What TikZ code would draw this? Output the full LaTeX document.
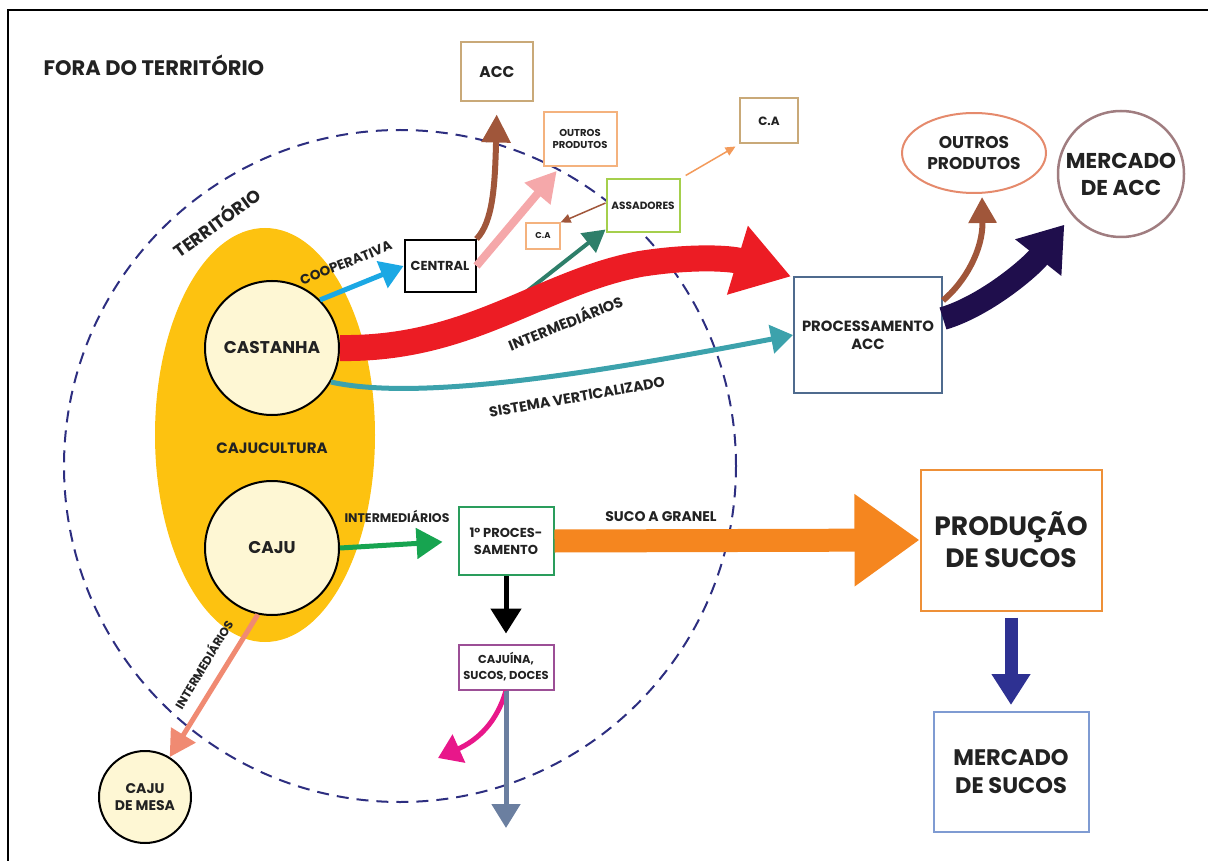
\documentclass[tikz,border=0pt]{standalone}
\usepackage{fontspec}
\setmainfont{Poppins}
\usetikzlibrary{arrows.meta,positioning,shapes.geometric}

\definecolor{cajuyellow}{HTML}{FDC210}
\definecolor{cream}{HTML}{FEF7D4}
\definecolor{terrnavy}{HTML}{2D2E80}
\definecolor{flowred}{HTML}{EC1C24}
\definecolor{coopblue}{HTML}{1BA8E4}
\definecolor{accbrown}{HTML}{A0563A}
\definecolor{pinkflow}{HTML}{F5A8AA}
\definecolor{assgreen}{HTML}{2E7F6A}
\definecolor{thinorange}{HTML}{F39A5A}
\definecolor{vertteal}{HTML}{3CA2AC}
\definecolor{deepnavy}{HTML}{1F0E4C}
\definecolor{intgreen}{HTML}{17A450}
\definecolor{sucoorange}{HTML}{F5861F}
\definecolor{magentaflow}{HTML}{E8178A}
\definecolor{slateflow}{HTML}{6B7FA0}
\definecolor{salmonflow}{HTML}{F08A72}
\definecolor{sucoblue}{HTML}{2E3192}
\definecolor{tanline}{HTML}{C9A978}
\definecolor{peachline}{HTML}{F4B27E}
\definecolor{limeline}{HTML}{A5CF4C}
\definecolor{ellipseline}{HTML}{E58A6C}
\definecolor{mauveline}{HTML}{A07D80}
\definecolor{slateline}{HTML}{4F6B8E}
\definecolor{procgreen}{HTML}{2A9D5C}
\definecolor{plumline}{HTML}{9C4F96}
\definecolor{orangeline}{HTML}{EE9038}
\definecolor{skyline}{HTML}{7F9BD2}
\definecolor{ink}{HTML}{222222}

\newcommand{\fsize}[2]{\fontsize{#1}{#2}\selectfont\bfseries}

\begin{document}
\begin{tikzpicture}[x=1pt, y=-1pt, thick, text=ink]
    % Define styles
    \tikzstyle{box} = [rectangle, draw, line width=2pt, fill=white, align=center, inner sep=0pt]
    \tikzstyle{disc} = [circle, draw=black, line width=2pt, fill=cream, align=center, inner sep=0pt, minimum size=134pt]
    \tikzstyle{territory} = [draw=terrnavy, line width=2pt, dash pattern=on 12pt off 8pt]
    \tikzstyle{tag} = [inner sep=0pt]

    \useasboundingbox (0,0) rectangle (1208,861);
    \draw [line width=2.5pt] (8,880) -- (8,10) -- (1230,10);
    \node [anchor=west, font=\fsize{21}{24}] (fora) at (40,65) {FORA DO TERRITÓRIO};

    % Territory and cajucultura
    \draw [territory] (400,466) circle (336pt);
    \node [ellipse, fill=cajuyellow, minimum width=220pt, minimum height=414pt] (cultura) at (265,435) {};
    \node [disc, font=\fsize{17}{20}] (castanha) at (272,348) {CASTANHA};
    \node [disc, font=\fsize{17}{20}] (caju) at (272,548) {CAJU};
    \node [disc, minimum size=92pt, font=\fsize{14}{17}] (mesa) at (145,797) {CAJU\\DE MESA};

    % Place nodes - castanha chain
    \node [box, draw=black, minimum width=71pt, minimum height=52pt, font=\fsize{13}{15}] (central) at (440,266) {CENTRAL};
    \node [box, draw=tanline, minimum width=72pt, minimum height=59pt, font=\fsize{15.5}{18}] (acc) at (497,72) {ACC};
    \node [box, draw=peachline, minimum width=73pt, minimum height=54pt, font=\fsize{10}{12.5}] (outros) at (580,139) {OUTROS\\PRODUTOS};
    \node [box, draw=limeline, minimum width=73pt, minimum height=53pt, font=\fsize{10.5}{13}] (assadores) at (643,206) {ASSADORES};
    \node [box, draw=peachline, line width=1.2pt, minimum width=34pt, minimum height=26pt, font=\fsize{8.5}{9}] (casmall) at (543,236) {C.A};
    \node [box, draw=tanline, minimum width=58pt, minimum height=45pt, font=\fsize{12}{14}] (catop) at (769,121) {C.A};
    \node [box, draw=slateline, minimum width=148pt, minimum height=115pt, font=\fsize{14.8}{18}] (proc) at (868,335) {PROCESSAMENTO\\ACC};
    \node [ellipse, draw=ellipseline, line width=2pt, fill=white, minimum width=144pt, minimum height=80pt, inner sep=0pt, align=center, font=\fsize{17}{21}] (outrosacc) at (974,153) {OUTROS\\PRODUTOS};
    \node [circle, draw=mauveline, line width=2.5pt, minimum size=126pt, inner sep=0pt, align=center, font=\fsize{21.5}{27}] (mercadoacc) at (1121,174) {MERCADO\\DE ACC};

    % Place nodes - caju chain
    \node [box, draw=procgreen, minimum width=95pt, minimum height=68pt, font=\fsize{13}{17}] (proc1) at (506,541) {1º PROCES-\\SAMENTO};
    \node [box, draw=plumline, below of=proc1, node distance=126pt, minimum width=95pt, minimum height=45pt, font=\fsize{11.5}{16}] (cajuina) {CAJUÍNA,\\SUCOS, DOCES};
    \node [box, draw=orangeline, minimum width=181pt, minimum height=141pt, font=\fsize{26.5}{32}] (prod) at (1011,540) {PRODUÇÃO\\DE SUCOS};
    \node [box, draw=skyline, below of=prod, node distance=232pt, minimum width=155pt, minimum height=120pt, font=\fsize{22.5}{28}] (msucos) {MERCADO\\DE SUCOS};

    \coordinate (fork) at (526,292);
    \coordinate (sideout) at (438,758);
    \coordinate (downout) at (506,828);

    % Draw edges - castanha
    \path [draw=coopblue, line width=5pt, -{Triangle[length=23pt,width=28pt]}] (castanha.45) -- (central.west);
    \path [draw=accbrown, line width=6pt, -{Triangle[length=28pt,width=28pt]}, shorten >=12pt] (central.north east) .. controls (493,222) and (495,185) .. (acc.south);
    \path [draw=pinkflow, line width=8pt, -{Triangle[length=30pt,width=32pt]}, shorten >=5pt] (central.east) -- ([xshift=-20pt]outros.south);
    \path [draw=assgreen, line width=4pt, -{Triangle[length=22pt,width=24pt]}] (fork) -- ([yshift=4pt]assadores.south west);
    \path [draw=accbrown, line width=1.5pt, -{Triangle[length=10pt,width=9pt]}] ([yshift=3pt]assadores.west) -- (casmall.north east);
    \path [draw=thinorange, line width=1.5pt, -{Triangle[length=10pt,width=9pt]}, shorten <=6pt, shorten >=4pt] (assadores.north east) -- (catop.south west);
    \path [draw=flowred, line width=26pt, -{Triangle[length=56pt,width=68pt]}] (castanha.east) .. controls (470,350) and (540,283) .. (640,264) .. controls (690,256) and (730,258) .. ([xshift=-2pt]proc.north west);
    \path [draw=vertteal, line width=5pt, -{Triangle[length=22pt,width=28pt]}] (castanha.-30) .. controls (420,402) and (600,372) .. (proc.west);
    \path [draw=accbrown, line width=6pt, -{Triangle[length=26pt,width=27pt]}, shorten >=3pt] ([yshift=-24pt]proc.north east) .. controls (965,282) and (983,250) .. ([xshift=8pt]outrosacc.south);
    \path [draw=deepnavy, line width=23pt, -{Triangle[length=42pt,width=56pt]}, shorten >=12pt] ([yshift=-42pt]proc.north east) .. controls (985,306) and (1030,268) .. (mercadoacc.220);

    % Draw edges - caju
    \path [draw=intgreen, line width=5pt, -{Triangle[length=26pt,width=30pt]}, shorten >=15pt] (caju.east) -- (proc1.west);
    \path [draw=sucoorange, line width=23pt, -{Triangle[length=65pt,width=88pt]}] (proc1.east) -- (prod.west);
    \path [draw=black, line width=5pt, -{Triangle[length=25pt,width=30pt]}, shorten >=10pt] (proc1.south) -- (cajuina.north);
    \path [draw=magentaflow, line width=5pt, -{Triangle[length=23pt,width=30pt]}] (cajuina.south) .. controls (497,722) and (478,740) .. (sideout);
    \path [draw=slateflow, line width=5pt, -{Triangle[length=24pt,width=28pt]}] (cajuina.south) -- (downout);
    \path [draw=salmonflow, line width=5pt, -{Triangle[length=26pt,width=28pt]}] (caju.-102) -- (mesa);
    \path [draw=sucoblue, line width=13pt, -{Triangle[length=31pt,width=37pt]}, shorten <=6pt, shorten >=6pt] (prod.south) -- (msucos.north);

    % Edge labels
    \node [tag, rotate=36, font=\fsize{17.5}{18}] (territorio) at (216,222) {TERRITÓRIO};
    \node [tag, font=\fsize{15}{18}] (cajucultura) at (272,448) {CAJUCULTURA};
    \node [tag, rotate=22, font=\fsize{13.5}{14}] (coop) at (346,263) {COOPERATIVA};
    \node [tag, rotate=22, font=\fsize{14.5}{16}] (intermed) at (565,322) {INTERMEDIÁRIOS};
    \node [tag, rotate=10, font=\fsize{14.3}{16}] (vertical) at (577,397) {SISTEMA VERTICALIZADO};
    \node [tag, font=\fsize{12.5}{13}] (intcaju) at (397,516) {INTERMEDIÁRIOS};
    \node [tag, font=\fsize{14}{15}] (granel) at (661,517) {SUCO A GRANEL};
    \node [tag, rotate=59, font=\fsize{12}{13}] (intmesa) at (203,664) {INTERMEDIÁRIOS};
\end{tikzpicture}
\end{document}
